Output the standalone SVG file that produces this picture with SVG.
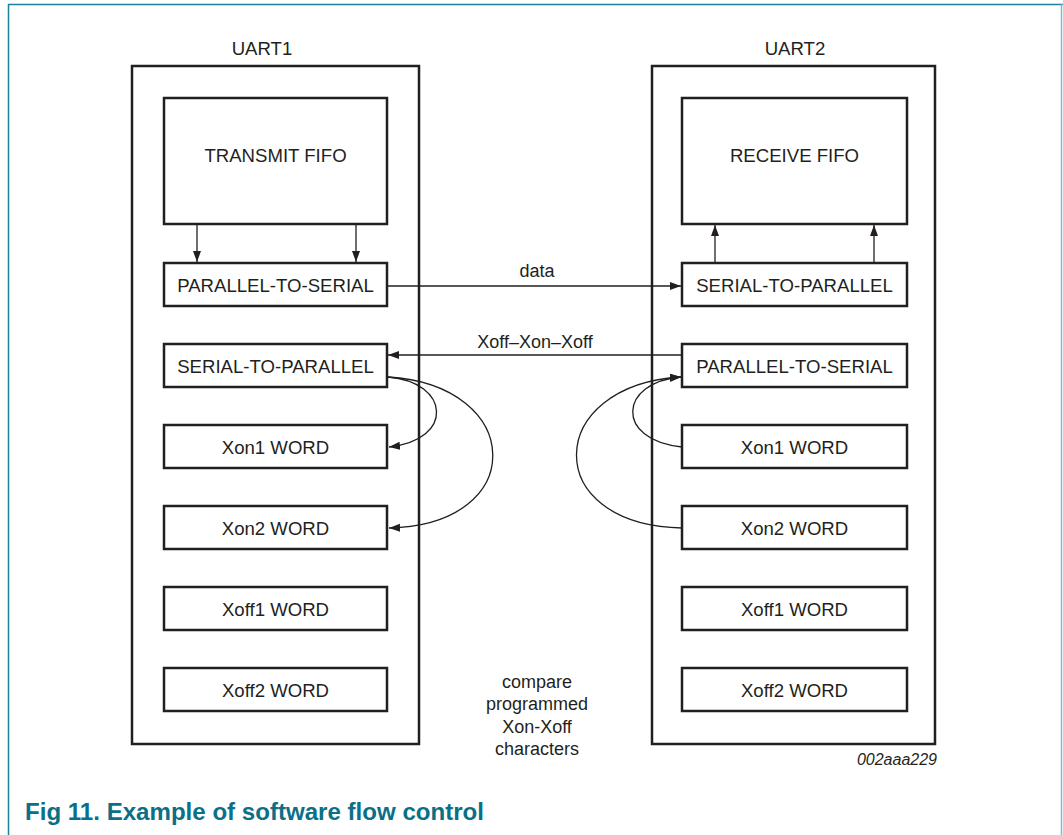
<svg xmlns="http://www.w3.org/2000/svg" width="1063" height="835" viewBox="0 0 1063 835">
<style>
  .t{font-family:"Liberation Sans",Arial,sans-serif;font-size:18px;fill:#231f20;text-anchor:middle}
  .b{font-size:18.6px}
  .box{fill:#fff;stroke:#231f20;stroke-width:2.5}
  .outer{fill:none;stroke:#231f20;stroke-width:2.5}
  .c{fill:none;stroke:#231f20;stroke-width:1.3}
</style>
<defs>
  <marker id="ah" markerUnits="userSpaceOnUse" markerWidth="12" markerHeight="10" refX="11" refY="4" orient="auto">
    <path d="M0,0 L11,4 L0,8 Z" fill="#231f20"/>
  </marker>
</defs>
<rect width="1063" height="835" fill="#fff"/>
<g id="frame">
  <line x1="8" y1="4.5" x2="1063" y2="4.5" stroke="#1a8196" stroke-width="1.5"/>
  <line x1="8.5" y1="4" x2="8.5" y2="835" stroke="#1a8196" stroke-width="1.5"/>
  <line x1="1061.5" y1="4" x2="1061.5" y2="835" stroke="#7fbac4" stroke-width="1.5"/>
</g>
<g id="uart1">
  <rect class="outer" x="132" y="66" width="287" height="678"/>
  <text class="t b" x="262" y="55">UART1</text>
</g>
<g id="uart2">
  <rect class="outer" x="652" y="66" width="283" height="678"/>
  <text class="t b" x="795" y="55">UART2</text>
</g>
<g id="transmit-fifo"><rect class="box" x="164" y="98" width="223" height="126"/><text class="t b" x="275.5" y="162">TRANSMIT FIFO</text></g>
<g id="l-p2s"><rect class="box" x="164" y="263" width="223" height="43"/><text class="t b" x="275.5" y="291.5">PARALLEL-TO-SERIAL</text></g>
<g id="l-s2p"><rect class="box" x="164" y="344" width="223" height="43"/><text class="t b" x="275.5" y="372.5">SERIAL-TO-PARALLEL</text></g>
<g id="l-xon1"><rect class="box" x="164" y="425" width="223" height="43"/><text class="t b" x="275.5" y="453.5">Xon1 WORD</text></g>
<g id="l-xon2"><rect class="box" x="164" y="506" width="223" height="43"/><text class="t b" x="275.5" y="534.5">Xon2 WORD</text></g>
<g id="l-xoff1"><rect class="box" x="164" y="587" width="223" height="43"/><text class="t b" x="275.5" y="615.5">Xoff1 WORD</text></g>
<g id="l-xoff2"><rect class="box" x="164" y="668" width="223" height="43"/><text class="t b" x="275.5" y="696.5">Xoff2 WORD</text></g>
<g id="receive-fifo"><rect class="box" x="682" y="98" width="225" height="126"/><text class="t b" x="794.5" y="162">RECEIVE FIFO</text></g>
<g id="r-s2p"><rect class="box" x="682" y="263" width="225" height="43"/><text class="t b" x="794.5" y="291.5">SERIAL-TO-PARALLEL</text></g>
<g id="r-p2s"><rect class="box" x="682" y="344" width="225" height="43"/><text class="t b" x="794.5" y="372.5">PARALLEL-TO-SERIAL</text></g>
<g id="r-xon1"><rect class="box" x="682" y="425" width="225" height="43"/><text class="t b" x="794.5" y="453.5">Xon1 WORD</text></g>
<g id="r-xon2"><rect class="box" x="682" y="506" width="225" height="43"/><text class="t b" x="794.5" y="534.5">Xon2 WORD</text></g>
<g id="r-xoff1"><rect class="box" x="682" y="587" width="225" height="43"/><text class="t b" x="794.5" y="615.5">Xoff1 WORD</text></g>
<g id="r-xoff2"><rect class="box" x="682" y="668" width="225" height="43"/><text class="t b" x="794.5" y="696.5">Xoff2 WORD</text></g>
<g id="connectors">
  <line class="c" x1="197" y1="225" x2="197" y2="262" marker-end="url(#ah)"/>
  <line class="c" x1="356" y1="225" x2="356" y2="262" marker-end="url(#ah)"/>
  <line class="c" x1="715" y1="262" x2="715" y2="225" marker-end="url(#ah)"/>
  <line class="c" x1="874" y1="262" x2="874" y2="225" marker-end="url(#ah)"/>
  <line class="c" x1="388" y1="286" x2="681" y2="286" marker-end="url(#ah)"/>
  <line class="c" x1="681" y1="355" x2="388" y2="355" marker-end="url(#ah)"/>
  <path class="c" d="M388,377 C450,382 455,440 389,447" marker-end="url(#ah)"/>
  <path class="c" d="M388,377 C525,385 530,525 389,528" marker-end="url(#ah)"/>
  <path class="c" d="M682,447 C614,440 619,382 681,377" marker-end="url(#ah)"/>
  <path class="c" d="M682,528 C539,525 544,385 681,377" marker-end="url(#ah)"/>
  <text class="t" x="537" y="277">data</text>
  <text class="t" x="535" y="348">Xoff–Xon–Xoff</text>
</g>
<g id="note">
  <text class="t" x="537" y="688">compare</text>
  <text class="t" x="537" y="710">programmed</text>
  <text class="t" x="537" y="733">Xon-Xoff</text>
  <text class="t" x="537" y="755">characters</text>
</g>
<text x="937" y="765" font-family="Liberation Sans,Arial,sans-serif" font-size="16" font-style="italic" fill="#231f20" text-anchor="end">002aaa229</text>
<text x="25" y="820" font-family="Liberation Sans,Arial,sans-serif" font-size="24" font-weight="bold" fill="#0b6f87" textLength="459" lengthAdjust="spacingAndGlyphs">Fig 11. Example of software flow control</text>
</svg>
